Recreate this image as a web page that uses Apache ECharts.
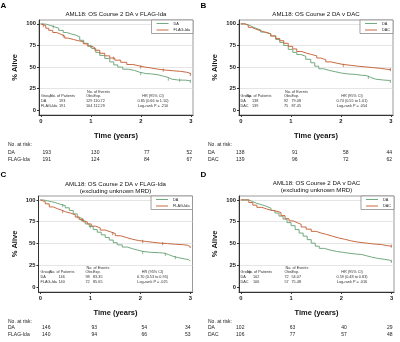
<!DOCTYPE html>
<html><head><meta charset="utf-8">
<script src="https://cdn.jsdelivr.net/npm/echarts@6/dist/echarts.min.js"></script>
<style>html,body{margin:0;padding:0;background:#fff}#c{width:400px;height:342px}</style>
</head><body><div id="c"></div><script>
// ---------- data ----------
const xTicks = [0, 1, 2, 3];
const yTicks = [0, 25, 50, 75, 100];
const riskTimes = [0, 1, 2, 3];

const A_DA = [[0,100],[0.05,99.5],[0.12,98],[0.2,96.5],[0.28,95],[0.36,92.5],[0.45,90],[0.52,88.5],[0.6,87],[0.7,85],[0.78,81],[0.86,77.5],[0.95,74],[1.02,71.5],[1.1,67],[1.18,63.5],[1.28,60],[1.38,56],[1.46,52.5],[1.54,50],[1.64,47.5],[1.75,46],[1.88,44],[1.98,42.5],[2.1,42],[2.22,41],[2.35,39.5],[2.45,38],[2.55,36],[2.62,35],[2.75,34.8],[2.9,34.2],[2.98,33.5],[3.0,33.5]];
const A_FLAG = [[0,100],[0.04,98],[0.1,95],[0.16,92.5],[0.24,90],[0.32,88],[0.4,86],[0.48,83.5],[0.55,82],[0.65,80.5],[0.75,79.5],[0.85,77],[0.93,74.5],[1.0,72.5],[1.08,69.5],[1.18,66],[1.28,63],[1.38,60.5],[1.48,58],[1.6,55.5],[1.72,53],[1.84,51.5],[1.96,50],[2.08,49],[2.2,47.5],[2.35,46.5],[2.5,45.7],[2.65,45],[2.8,44],[2.92,43],[2.98,41.5],[3.0,41.5]];
const B_DA = [[0,100],[0.08,99],[0.15,97],[0.22,95],[0.3,93],[0.4,90.5],[0.5,88.5],[0.6,86],[0.7,82],[0.78,78.5],[0.86,75],[0.95,70.5],[1.04,67],[1.12,64.5],[1.2,62.5],[1.3,59],[1.4,55],[1.48,51],[1.56,48],[1.66,46],[1.78,44.5],[1.9,43],[2.02,42],[2.15,41.5],[2.3,40.5],[2.42,40],[2.52,38],[2.6,36],[2.7,35],[2.85,34.5],[2.97,33.5],[3.0,33.5]];
const B_DAC = [[0,100],[0.08,98.5],[0.15,96],[0.22,94],[0.3,92],[0.4,90],[0.5,88.5],[0.6,86],[0.7,83],[0.78,80.5],[0.86,77.5],[0.95,74],[1.04,71],[1.12,68],[1.22,66],[1.32,64.5],[1.42,63],[1.52,60.5],[1.6,58.5],[1.7,56],[1.8,54.5],[1.92,53],[2.05,52],[2.2,51],[2.35,50.2],[2.5,49.3],[2.65,48.5],[2.8,47.5],[2.92,47],[3.0,46.5]];
const C_DA = [[0,100],[0.06,99],[0.14,98],[0.22,97],[0.3,95],[0.4,93.5],[0.5,91],[0.58,88],[0.66,84],[0.74,79.5],[0.82,76],[0.9,72.5],[0.98,69.5],[1.06,66],[1.14,63],[1.22,60],[1.3,57],[1.38,54],[1.46,51],[1.54,48.5],[1.64,46],[1.74,44],[1.85,42.5],[1.95,41],[2.05,40],[2.2,39.5],[2.38,39],[2.48,37.5],[2.56,35.5],[2.65,34],[2.75,32.5],[2.88,31.5],[2.97,30],[3.0,30]];
const C_FLAG = [[0,100],[0.04,98],[0.1,95.5],[0.18,92],[0.26,90],[0.34,88.5],[0.42,86.5],[0.5,85],[0.6,83],[0.7,80.5],[0.78,77.5],[0.86,75],[0.94,72.5],[1.02,70],[1.1,68],[1.2,65.5],[1.3,63.5],[1.4,61.5],[1.5,59],[1.6,57],[1.72,55],[1.84,53.5],[1.96,52.5],[2.1,51.5],[2.25,50.5],[2.4,50],[2.55,49.2],[2.7,48.7],[2.85,48],[2.95,46.5],[3.0,45]];
const D_DA = [[0,100],[0.1,100],[0.16,98],[0.24,96],[0.32,94.5],[0.42,92.5],[0.52,90.5],[0.6,88],[0.68,85],[0.76,81.5],[0.84,78],[0.92,74],[1.0,70.5],[1.08,66],[1.16,62],[1.24,58.5],[1.32,54.5],[1.4,50.5],[1.48,47],[1.56,44.5],[1.66,42.5],[1.78,41],[1.9,40],[2.02,39],[2.15,38],[2.28,37.5],[2.4,36],[2.5,34.5],[2.6,33],[2.72,32],[2.85,31],[2.96,29.5],[3.0,29.5]];
const D_DAC = [[0,100],[0.1,100],[0.16,97],[0.24,94],[0.32,91.5],[0.42,89.5],[0.52,88],[0.62,87],[0.72,85.5],[0.8,82],[0.88,78.5],[0.96,76],[1.04,74],[1.12,72],[1.2,69],[1.3,66.5],[1.4,64],[1.5,62],[1.6,60.5],[1.7,58.5],[1.82,56.5],[1.94,55],[2.06,53],[2.2,51.5],[2.35,50.5],[2.5,49.5],[2.65,48.8],[2.8,47.5],[2.92,47],[3.0,46.5]];

// censoring times (years)
const censA_DA = [0.25, 1.0, 2.0, 2.55, 2.78, 2.99];
const censA_FLAG = [0.05, 0.45, 1.45, 2.0, 2.45, 2.99];
const censB_DA = [2.55, 2.99];
const censB_DAC = [2.05, 2.99];
const censC_DA = [0.45, 1.0, 2.05, 2.5, 2.7];
const censC_FLAG = [0.45, 0.85, 1.45, 2.05, 2.45];
const censD_DA = [2.99];
const censD_DAC = [2.99];

const riskA_DA = [193, 130, 77, 52];
const riskA_FLAG = [191, 124, 84, 67];
const riskB_DA = [138, 91, 58, 44];
const riskB_DAC = [139, 96, 72, 62];
const riskC_DA = [146, 93, 54, 34];
const riskC_FLAG = [140, 94, 66, 53];
const riskD_DA = [102, 63, 40, 29];
const riskD_DAC = [106, 77, 57, 48];

const tableA = [['DA','193','129','110.72','0.85 (0.66 to 1.10)'],['FLAG-Ida','191','104','112.29','Log-rank P = .210']];
const tableB = [['DA','138','92','79.08','0.74 (0.55 to 1.01)'],['DAC','139','75','87.45','Log-rank P = .054']];
const tableC = [['DA','146','98','83.35','0.70 (0.53 to 0.95)'],['FLAG-Ida','140','72','85.65','Log-rank P = .025']];
const tableD = [['DA','102','72','54.07','0.59 (0.48 to 0.83)'],['DAC','106','57','75.48','Log-rank P = .016']];

// ---------- layout / style ----------
const FONT = '"Liberation Sans", Arial, sans-serif';
const GREEN = '#72aa80', ORANGE = '#c96a42';
const XMIN = -0.035, XMAX = 3.045, YMIN = -5.5, YMAX = 104.5;

const panels = [
  {letter:'A', lx:3.5, ly:5.5, title:['AML18: OS Course 2 DA v FLAG-Ida'], titleY:[14], left:39, top:20, width:154, height:95,
   g2:'FLAG-Ida', s1:A_DA, s2:A_FLAG, c1:censA_DA, c2:censA_FLAG, r1:riskA_DA, r2:riskA_FLAG, table:tableA, riskX:8, riskY:[145,152.5,160],
   rOff:[6,4.5,6,-1.5], cols:[2,11,20,47,54.5,114]},
  {letter:'B', lx:203.5, ly:5.5, title:['AML18: OS Course 2 DA v DAC'], titleY:[14], left:239, top:20, width:154, height:95,
   g2:'DAC', s1:B_DA, s2:B_DAC, c1:censB_DA, c2:censB_DAC, r1:riskB_DA, r2:riskB_DAC, table:tableB, riskX:208, riskY:[145,152.5,160],
   rOff:[-0.5,4,5,-1.5], cols:[1.5,7.5,13,45,52.5,113]},
  {letter:'C', lx:3.5, ly:174.5, title:['AML18: OS Course 2 DA v FLAG-Ida','(excluding unknown MRD)'], titleY:[184,191], left:38.5, top:196, width:154, height:96,
   g2:'FLAG-Ida', s1:C_DA, s2:C_FLAG, c1:censC_DA, c2:censC_FLAG, r1:riskC_DA, r2:riskC_FLAG, table:tableC, riskX:8, riskY:[321.5,328,335],
   rOff:[6,4,4,-2.5], cols:[2,11,20,47,54.5,114]},
  {letter:'D', lx:203.5, ly:174.5, title:['AML18: OS Course 2 DA v DAC','(excluding unknown MRD)'], titleY:[183.5,190.5], left:239, top:196, width:155, height:96,
   g2:'DAC', s1:D_DA, s2:D_DAC, c1:censD_DA, c2:censD_DAC, r1:riskD_DA, r2:riskD_DAC, table:tableD, riskX:208, riskY:[321.5,328,335],
   rOff:[-0.5,1.5,2.5,-2], cols:[1.5,8,14,45.5,52.5,113]}
];

function txt(x, y, text, size, opt) {
  opt = opt || {};
  return {type:'text', x:x, y:y, silent:true, z:10,
    style:{text:text, fontSize:size, fontFamily:FONT, fontWeight:opt.bold?'bold':'normal',
      fill:opt.color||'#222', align:opt.align||'left', verticalAlign:'middle'}};
}
// survival value of a step curve at time t (value in force at t)
function survAt(curve, t) {
  let v = curve[0][1];
  for (const pt of curve) { if (pt[0] <= t) v = pt[1]; else break; }
  return v;
}

const grids = [], xAxes = [], yAxes = [], series = [], legends = [], graphics = [];
panels.forEach((p, i) => {
  grids.push({left:p.left, top:p.top, width:p.width, height:p.height, show:true,
    borderColor:'#9a9a9a', borderWidth:1, backgroundColor:'transparent'});
  xAxes.push({gridIndex:i, type:'value', min:XMIN, max:XMAX,
    axisLine:{show:true, onZero:false, lineStyle:{color:'#333', width:1}},
    axisTick:{show:true, length:2, customValues:xTicks, lineStyle:{color:'#333'}},
    axisLabel:{customValues:xTicks, fontSize:5.8, fontWeight:'bold', color:'#222', margin:3.5, fontFamily:FONT},
    splitLine:{show:false},
    name:'Time (years)', nameLocation:'middle', nameGap:17,
    nameTextStyle:{fontSize:7.5, fontWeight:'bold', color:'#111', fontFamily:FONT}});
  yAxes.push({gridIndex:i, type:'value', min:YMIN, max:YMAX,
    axisLine:{show:true, onZero:false, lineStyle:{color:'#333', width:1}},
    axisTick:{show:true, length:2, customValues:yTicks, lineStyle:{color:'#333'}},
    axisLabel:{customValues:yTicks, fontSize:5.8, fontWeight:'bold', color:'#222', margin:3, fontFamily:FONT},
    splitLine:{show:true, lineStyle:{color:['rgba(0,0,0,0)','#dedede','#dedede','#dedede','#dedede'], width:0.8}},
    name:'% Alive', nameLocation:'middle', nameGap:20,
    nameTextStyle:{fontSize:7.5, fontWeight:'bold', color:'#111', fontFamily:FONT}});
  series.push({type:'line', name:'DA', xAxisIndex:i, yAxisIndex:i, data:p.s1, step:'end', symbol:'none',
    color:GREEN, lineStyle:{width:1, color:GREEN}, itemStyle:{color:GREEN}, animation:false, z:3});
  series.push({type:'line', name:p.g2, xAxisIndex:i, yAxisIndex:i, data:p.s2, step:'end', symbol:'none',
    color:ORANGE, lineStyle:{width:1, color:ORANGE}, itemStyle:{color:ORANGE}, animation:false, z:3});
  series.push({type:'scatter', name:'cens-DA-' + i, xAxisIndex:i, yAxisIndex:i,
    data:p.c1.map(t => [t, survAt(p.s1, t)]), symbol:'rect', symbolSize:[0.8, 3.2],
    itemStyle:{color:'#5a8f68'}, silent:true, animation:false, z:4});
  series.push({type:'scatter', name:'cens-2-' + i, xAxisIndex:i, yAxisIndex:i,
    data:p.c2.map(t => [t, survAt(p.s2, t)]), symbol:'rect', symbolSize:[0.8, 3.2],
    itemStyle:{color:'#a8532f'}, silent:true, animation:false, z:4});
  legends.push({data:['DA', p.g2], orient:'vertical', right:400-(p.left+p.width), top:p.top,
    icon:'rect', itemWidth:12, itemHeight:1, itemGap:2.5, padding:[1.5,3,1.5,5],
    borderColor:'#8a8a8a', borderWidth:0.8, backgroundColor:'#fff', selectedMode:false,
    textStyle:{fontSize:3.8, fontFamily:FONT, color:'#222'}});

  graphics.push(txt(p.lx, p.ly, p.letter, 8, {bold:true, align:'center', color:'#000'}));
  p.title.forEach((t, k) => graphics.push(txt(p.left + p.width/2, p.titleY[k], t, 6.1, {align:'center', color:'#111'})));

  const xPix = t => p.left + (t - XMIN) / (XMAX - XMIN) * p.width;
  graphics.push(txt(p.riskX, p.riskY[0], 'No. at risk:', 5));
  graphics.push(txt(p.riskX, p.riskY[1], 'DA', 5));
  graphics.push(txt(p.riskX, p.riskY[2], p.g2, 5));
  riskTimes.forEach((t, k) => {
    graphics.push(txt(xPix(t) + p.rOff[k], p.riskY[1], String(p.r1[k]), 5, {align:'center'}));
    graphics.push(txt(xPix(t) + p.rOff[k], p.riskY[2], String(p.r2[k]), 5, {align:'center'}));
  });

  const c = p.cols, L = p.left, T = p.top, fs = 3.8, col = '#333';
  graphics.push(txt(L + c[3] + 1, T + 72, 'No. of Events', fs, {color:col}));
  graphics.push(txt(L + c[0], T + 75.7, 'Group', fs, {color:col}));
  graphics.push(txt(L + c[1], T + 75.7, 'No. of Patients', fs, {color:col}));
  graphics.push(txt(L + c[3], T + 75.7, 'Obs.', fs, {color:col}));
  graphics.push(txt(L + c[4], T + 75.7, 'Exp.', fs, {color:col}));
  graphics.push(txt(L + c[5], T + 75.7, 'HR (95% CI)', fs, {color:col, align:'center'}));
  p.table.forEach((row, r) => {
    const yy = T + 80.5 + r * 5.6;
    graphics.push(txt(L + c[0], yy, row[0], fs, {color:col}));
    graphics.push(txt(L + c[2], yy, row[1], fs, {color:col}));
    graphics.push(txt(L + c[3], yy, row[2], fs, {color:col}));
    graphics.push(txt(L + c[4], yy, row[3], fs, {color:col}));
    graphics.push(txt(L + c[5], yy, row[4], fs, {color:col, align:'center'}));
  });
});

const chart = echarts.init(document.getElementById('c'), null, {renderer:'canvas'});
chart.setOption({
  animation:false,
  backgroundColor:'#fff',
  grid:grids, xAxis:xAxes, yAxis:yAxes, series:series, legend:legends,
  graphic:graphics
});
</script></body></html>
